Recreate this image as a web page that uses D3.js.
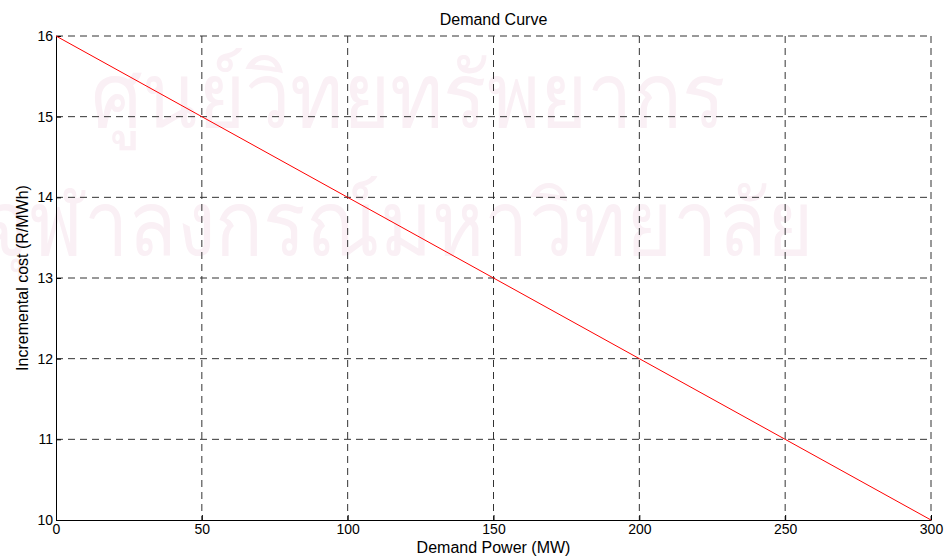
<!DOCTYPE html>
<html>
<head>
<meta charset="utf-8">
<script src="https://cdn.jsdelivr.net/npm/d3@7"></script>
<style>
  body { margin: 0; background: #fff; }
  svg { font-family: "Liberation Sans", Arial, sans-serif; }
  .axis path, .axis line { stroke: #000; }
  .axis text { font-size: 14px; fill: #000; }
  .grid line { stroke: #333; stroke-dasharray: 7,5; }
</style>
</head>
<body>
<script>
// Demand curve

// data
var power = [0, 50, 100, 150, 200, 250, 300];
var cost = [16, 15, 14, 13, 12, 11, 10];
var xTicks = [0, 50, 100, 150, 200, 250, 300];
var yTicks = [10, 11, 12, 13, 14, 15, 16];
var watermark = ["ศูนย์วิทยทรัพยากร", "จุฬาลงกรณ์มหาวิทยาลัย"];

var svg = d3.select("body").append("svg")
  .attr("width", 947)
  .attr("height", 558);

var margin = { top: 36, right: 16, bottom: 38, left: 56 };
var width = 947 - margin.left - margin.right,
  height = 558 - margin.top - margin.bottom;

// faint watermark in the background
svg.append("text")
  .attr("transform", "translate(408,127) scale(0.9,1)")
  .attr("text-anchor", "middle")
  .style("font-size", "90px")
  .style("fill", "#faf0f5")
  .text(watermark[0]);
svg.append("text")
  .attr("transform", "translate(398,255) scale(0.88,1)")
  .attr("text-anchor", "middle")
  .style("font-size", "90px")
  .style("fill", "#faf0f5")
  .text(watermark[1]);

var x = d3.scaleLinear().domain([0, 300]).range([0, width]);
var y = d3.scaleLinear().domain([10, 16]).range([height, 0]);

var g = svg.append("g")
  .attr("transform", "translate(" + margin.left + "," + margin.top + ")");

// grid
g.append("g").attr("class", "grid")
  .selectAll("line.v").data(xTicks.filter(function(d) { return d > 0; }))
  .enter().append("line")
  .attr("x1", function(d) { return x(d); })
  .attr("x2", function(d) { return x(d); })
  .attr("y1", 0).attr("y2", height);

g.append("g").attr("class", "grid")
  .selectAll("line.h").data(yTicks.filter(function(d) { return d > 10; }))
  .enter().append("line")
  .attr("x1", 0).attr("x2", width)
  .attr("y1", function(d) { return y(d); })
  .attr("y2", function(d) { return y(d); });

// axes
g.append("g")
  .attr("class", "axis")
  .attr("transform", "translate(0," + height + ")")
  .call(d3.axisBottom(x).tickValues(xTicks).tickFormat(d3.format("d"))
    .tickSizeInner(-5).tickSizeOuter(0).tickPadding(4));

g.append("g")
  .attr("class", "axis")
  .call(d3.axisLeft(y).tickValues(yTicks).tickFormat(d3.format("d"))
    .tickSizeInner(-5).tickSizeOuter(0).tickPadding(3));

// curve
var line = d3.line()
  .x(function(d, i) { return x(power[i]); })
  .y(function(d) { return y(d); });

g.append("path")
  .datum(cost)
  .attr("fill", "none")
  .attr("stroke", "#ff0000")
  .attr("stroke-width", 1)
  .attr("d", line);

// titles
svg.append("text")
  .attr("x", margin.left + width / 2)
  .attr("y", 25)
  .attr("text-anchor", "middle")
  .style("font-size", "16px")
  .text("Demand Curve");

svg.append("text")
  .attr("x", margin.left + width / 2)
  .attr("y", 553)
  .attr("text-anchor", "middle")
  .style("font-size", "16px")
  .text("Demand Power (MW)");

svg.append("text")
  .attr("transform", "rotate(-90)")
  .attr("x", -(margin.top + height / 2))
  .attr("y", 28)
  .attr("text-anchor", "middle")
  .style("font-size", "16px")
  .text("Incremental cost (R/MWh)");
</script>
</body>
</html>
